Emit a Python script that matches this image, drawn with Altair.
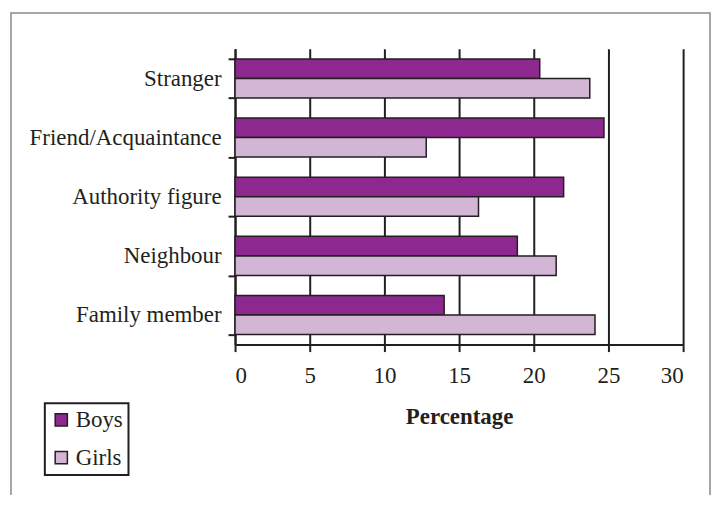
import altair as alt
import pandas as pd

categories = ["Stranger", "Friend/Acquaintance", "Authority figure", "Neighbour", "Family member"]
boys = [20.4, 24.7, 22.0, 18.9, 14.0]
girls = [23.75, 12.8, 16.3, 21.5, 24.1]
series = ["Boys", "Girls"]
colors = ["#8d288f", "#d3b5d5"]
x_ticks = [0, 5, 10, 15, 20, 25, 30]

rows = []
for c, b, g in zip(categories, boys, girls):
    rows.append({"Category": c, "Group": "Boys", "Value": b})
    rows.append({"Category": c, "Group": "Girls", "Value": g})
df = pd.DataFrame(rows)

FONT = "Liberation Serif"
TXT = "#231f20"

bars = alt.Chart(df).mark_bar(stroke="#231f20", strokeWidth=1.5).encode(
    x=alt.X("Value:Q",
            scale=alt.Scale(domain=[0, 30], nice=False),
            axis=alt.Axis(values=x_ticks, title="Percentage", grid=True,
                          gridColor="#231f20", gridWidth=2, gridOpacity=1,
                          domainColor="#231f20", domainWidth=2,
                          tickColor="#231f20", tickWidth=2, tickSize=7,
                          labelFont=FONT, labelFontSize=23, labelColor=TXT,
                          labelPadding=13,
                          titleFont=FONT, titleFontSize=23, titleFontWeight="bold",
                          titleColor=TXT, titlePadding=18)),
    y=alt.Y("Category:N", sort=categories,
            scale=alt.Scale(paddingInner=0.34, paddingOuter=0.17),
            axis=alt.Axis(title=None, tickBand="extent", grid=False,
                          domainColor="#231f20", domainWidth=2,
                          tickColor="#231f20", tickWidth=2, tickSize=7,
                          labelFont=FONT, labelFontSize=23, labelColor=TXT,
                          labelLimit=400, labelPadding=7)),
    yOffset=alt.YOffset("Group:N", sort=series),
    color=alt.Color("Group:N", sort=series,
                    scale=alt.Scale(domain=series, range=colors),
                    legend=alt.Legend(title=None, orient="none",
                                      legendX=-191, legendY=356,
                                      symbolType="square", symbolSize=150,
                                      symbolStrokeColor="#231f20", symbolStrokeWidth=1.5,
                                      symbolOpacity=1,
                                      labelFont=FONT, labelFontSize=23, labelColor=TXT,
                                      labelOffset=3, rowPadding=14, padding=5,
                                      strokeColor="#231f20")),
)

frame = alt.Chart(pd.DataFrame({"a": [0]})).mark_rect(
    fill=None, stroke="#8a8a8a", strokeWidth=1.5
).encode(
    x=alt.value(-225), x2=alt.value(477),
    y=alt.value(-36), y2=alt.value(480),
)

chart = alt.layer(frame, bars).properties(
    width=450, height=297,
    autosize=alt.AutoSizeParams(type="none"),
    padding={"left": 228, "top": 40, "right": 30, "bottom": 150},
).configure_view(stroke=None).configure_legend(
    strokeColor="#231f20", strokeWidth=2
)

chart.save("out.html", embed_options={"renderer": "svg", "actions": False})
